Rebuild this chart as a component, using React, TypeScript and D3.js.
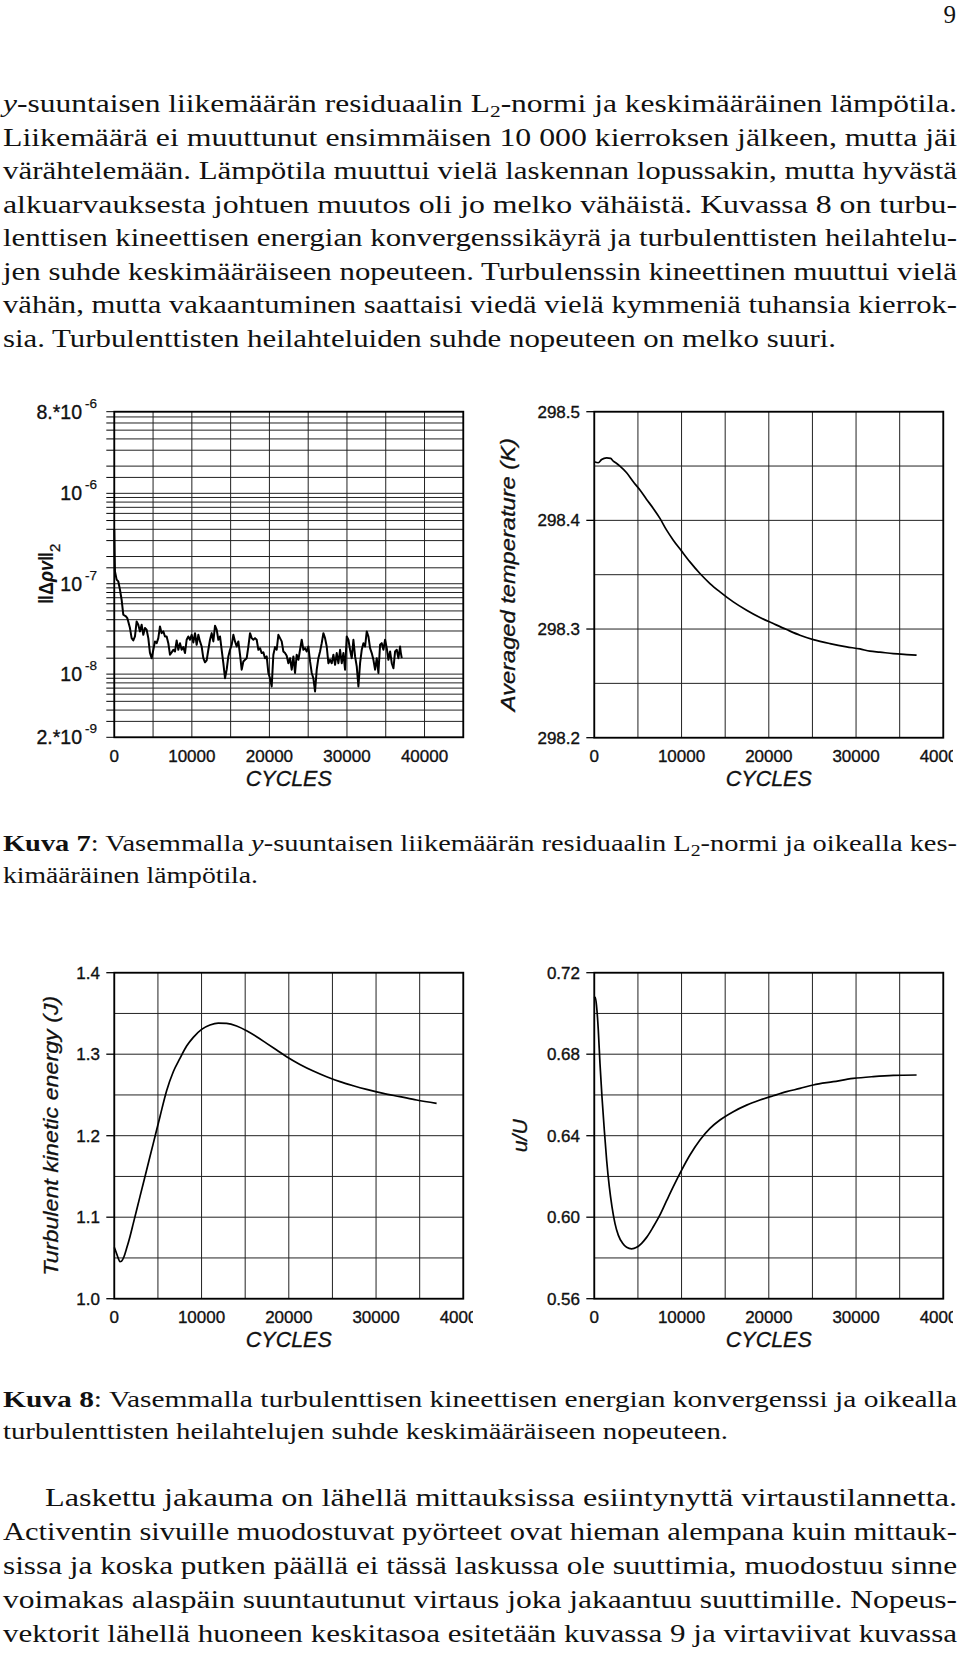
import React from "react";
import * as d3 from "d3";

const SERIF = "'Liberation Serif', 'Times New Roman', serif";
const SANS = "'Liberation Sans', Arial, Helvetica, sans-serif";

// ---------- data ----------
const xTickValues = [0, 10000, 20000, 30000, 40000];
const xTickLabels = ["0", "10000", "20000", "30000", "40000"];

// residual L2 norm: [cycles, value]
const residual: [number, number][] = [
  [0, 4.0e-7], [40, 2.2e-7], [86, 1.37e-7], [301, 1.11e-7], [516, 1.06e-7], [730, 8.6e-8],
  [945, 6.65e-8], [1160, 4.54e-8], [1504, 4.35e-8], [1675, 4.17e-8], [2020, 3.23e-8], [2235, 2.5e-8],
  [2450, 2.36e-8], [2665, 2.61e-8], [2880, 3.83e-8], [3095, 3.52e-8], [3310, 2.97e-8], [3525, 3.52e-8],
  [3740, 2.72e-8], [3955, 3.23e-8], [4170, 3.1e-8], [4385, 2.5e-8], [4600, 1.71e-8], [4815, 1.5e-8],
  [5030, 1.86e-8], [5245, 2.3e-8], [5460, 2.2e-8], [5675, 2.5e-8], [5890, 3.37e-8], [6105, 2.84e-8],
  [6320, 2.97e-8], [6535, 2.61e-8], [6750, 2.61e-8], [6965, 2.2e-8], [7180, 1.64e-8], [7395, 1.74e-8],
  [7610, 1.86e-8], [7825, 1.78e-8], [8040, 2.36e-8], [8255, 1.86e-8], [8470, 2.2e-8], [8685, 1.86e-8],
  [8900, 1.99e-8], [9115, 1.71e-8], [9330, 2.4e-8], [9545, 2.61e-8], [9760, 2.4e-8], [9975, 2.72e-8],
  [10190, 2.24e-8], [10405, 2.84e-8], [10620, 2.11e-8], [10835, 2.72e-8], [11050, 2.3e-8], [11265, 2.02e-8],
  [11480, 1.5e-8], [11695, 1.35e-8], [11910, 1.42e-8], [12125, 1.86e-8], [12340, 2.4e-8], [12555, 2.84e-8],
  [12770, 2.3e-8], [12985, 3.43e-8], [13200, 3.1e-8], [13415, 2.4e-8], [13630, 2.61e-8], [13845, 1.86e-8],
  [14060, 1.32e-8], [14275, 9.0e-9], [14490, 1.12e-8], [14705, 1.57e-8], [14920, 1.86e-8], [15135, 2.11e-8],
  [15350, 2.72e-8], [15565, 2.3e-8], [15780, 2.02e-8], [15995, 2.3e-8], [16210, 1.64e-8], [16425, 1.12e-8],
  [16640, 1.38e-8], [16855, 1.44e-8], [17070, 1.5e-8], [17285, 2.02e-8], [17500, 2.84e-8], [17715, 2.5e-8],
  [17930, 2.4e-8], [18145, 2.5e-8], [18360, 2.4e-8], [18575, 1.86e-8], [18790, 1.94e-8], [19005, 1.71e-8],
  [19220, 1.74e-8], [19435, 1.5e-8], [19650, 1.57e-8], [19865, 1.03e-8], [20080, 9.0e-9], [20295, 7.3e-9],
  [20510, 1.64e-8], [20725, 1.99e-8], [20940, 1.86e-8], [21155, 2.72e-8], [21370, 2.5e-8], [21585, 2.3e-8],
  [21800, 1.78e-8], [22015, 1.71e-8], [22230, 1.6e-8], [22445, 1.32e-8], [22660, 1.5e-8], [22875, 1.12e-8],
  [23090, 1.57e-8], [23305, 1.03e-8], [23520, 1.64e-8], [23735, 1.44e-8], [23950, 1.86e-8], [24165, 2.4e-8],
  [24380, 1.86e-8], [24595, 1.94e-8], [24810, 1.78e-8], [25025, 2.02e-8], [25240, 1.38e-8], [25455, 1.03e-8],
  [25670, 9.0e-9], [25885, 6.43e-9], [26100, 1.12e-8], [26315, 1.5e-8], [26530, 1.78e-8], [26745, 2.2e-8],
  [26960, 2.84e-8], [27175, 2.5e-8], [27390, 2.02e-8], [27605, 1.32e-8], [27820, 1.44e-8], [28035, 1.32e-8],
  [28250, 1.64e-8], [28465, 1.27e-8], [28680, 1.71e-8], [28895, 1.32e-8], [29110, 1.86e-8], [29325, 1.32e-8],
  [29540, 1.71e-8], [29755, 1.12e-8], [29970, 2.61e-8], [30185, 2.4e-8], [30400, 1.86e-8], [30615, 1.5e-8],
  [30830, 2.4e-8], [31045, 1.57e-8], [31260, 1.22e-8], [31475, 7.3e-9], [31690, 1.32e-8], [31905, 1.86e-8],
  [32120, 2.2e-8], [32335, 2.02e-8], [32550, 2.97e-8], [32765, 2.61e-8], [32980, 1.94e-8], [33195, 1.71e-8],
  [33410, 1.44e-8], [33625, 1.12e-8], [33840, 1.5e-8], [34055, 1.03e-8], [34270, 2.11e-8], [34485, 2.2e-8],
  [34700, 1.86e-8], [34915, 2.4e-8], [35130, 1.94e-8], [35345, 1.44e-8], [35560, 1.78e-8], [35775, 1.32e-8],
  [35990, 1.16e-8], [36205, 1.78e-8], [36420, 1.86e-8], [36635, 1.5e-8], [36850, 2.02e-8], [36935, 1.74e-8],
  [37065, 1.5e-8],
];
const logTickValues = [8e-6, 1e-6, 1e-7, 1e-8, 2e-9];
const logTickBases = ["8.*10", "10", "10", "10", "2.*10"];
const logTickExps = ["-6", "-6", "-7", "-8", "-9"];
const logGridMultipliers = [1, 1.5, 2, 3, 4, 5, 6, 7, 8, 9];
const logDecades = [-9, -8, -7, -6];

const tempCycles = [0, 458, 840, 1413, 1870, 2177, 2560, 2940, 3705, 4470, 5233, 5997, 6760, 7525, 8290, 9053, 10008, 10963, 12109, 13255, 14401, 15929, 17457, 18985, 20513, 22041, 23569, 25097, 27007, 28917, 30445, 31591, 32737, 34265, 35793, 36939];
const tempValues = [298.454, 298.453, 298.456, 298.4576, 298.457, 298.4546, 298.4524, 298.45, 298.4438, 298.4355, 298.4279, 298.4193, 298.411, 298.4018, 298.391, 298.3818, 298.3717, 298.3618, 298.3511, 298.3419, 298.3342, 298.325, 298.3173, 298.3106, 298.305, 298.2995, 298.2943, 298.2903, 298.2866, 298.2836, 298.2817, 298.2796, 298.2787, 298.2774, 298.2765, 298.2759];
const tempTicks = [298.2, 298.3, 298.4, 298.5];
const tempTickLabels = ["298.2", "298.3", "298.4", "298.5"];

const tkeCycles = [0, 191, 458, 650, 840, 1108, 1413, 1795, 2177, 2941, 3705, 4469, 5233, 5997, 6761, 7525, 8289, 9053, 10008, 10963, 11918, 12873, 14019, 15165, 16311, 17457, 18603, 19749, 21277, 22805, 24333, 25861, 27389, 28917, 30827, 32737, 34647, 36939];
const tkeValues = [1.063, 1.0577, 1.0495, 1.0454, 1.0462, 1.0515, 1.0618, 1.0761, 1.0924, 1.1252, 1.1579, 1.1906, 1.2233, 1.2552, 1.2785, 1.2949, 1.31, 1.3207, 1.3305, 1.3358, 1.3382, 1.3378, 1.3346, 1.3288, 1.3215, 1.3133, 1.3051, 1.2969, 1.2875, 1.2794, 1.2724, 1.2663, 1.2613, 1.2568, 1.2519, 1.2479, 1.2438, 1.2397];
const tkeTicks = [1.0, 1.1, 1.2, 1.3, 1.4];
const tkeTickLabels = ["1.0", "1.1", "1.2", "1.3", "1.4"];

const uCycles = [0, 115, 267, 458, 650, 879, 1146, 1413, 1719, 2025, 2368, 2750, 3247, 3705, 4278, 4851, 5424, 5997, 6761, 7525, 8289, 9053, 10008, 10963, 12109, 13255, 14401, 15929, 17457, 18985, 20513, 22041, 23569, 25097, 27389, 29681, 31973, 34265, 36939];
const uValues = [0.7074, 0.7079, 0.7033, 0.6919, 0.6755, 0.6591, 0.6428, 0.6281, 0.615, 0.6052, 0.597, 0.5912, 0.5872, 0.5852, 0.5845, 0.5852, 0.5872, 0.5901, 0.5953, 0.6011, 0.6081, 0.615, 0.6231, 0.6305, 0.6379, 0.6436, 0.6477, 0.6518, 0.655, 0.6575, 0.6596, 0.6616, 0.6632, 0.6649, 0.6665, 0.6681, 0.669, 0.6696, 0.6698];
const uTicks = [0.56, 0.6, 0.64, 0.68, 0.72];
const uTickLabels = ["0.56", "0.60", "0.64", "0.68", "0.72"];

// ---------- text ----------
const para1 = [
  "Liikemäärä ei muuttunut ensimmäisen 10 000 kierroksen jälkeen, mutta jäi",
  "värähtelemään. Lämpötila muuttui vielä laskennan lopussakin, mutta hyvästä",
  "alkuarvauksesta johtuen muutos oli jo melko vähäistä. Kuvassa 8 on turbu-",
  "lenttisen kineettisen energian konvergenssikäyrä ja turbulenttisten heilahtelu-",
  "jen suhde keskimääräiseen nopeuteen. Turbulenssin kineettinen muuttui vielä",
  "vähän, mutta vakaantuminen saattaisi viedä vielä kymmeniä tuhansia kierrok-",
];
const para1Last = "sia. Turbulenttisten heilahteluiden suhde nopeuteen on melko suuri.";
const para2 = [
  "Activentin sivuille muodostuvat pyörteet ovat hieman alempana kuin mittauk-",
  "sissa ja koska putken päällä ei tässä laskussa ole suuttimia, muodostuu sinne",
  "voimakas alaspäin suuntautunut virtaus joka jakaantuu suuttimille. Nopeus-",
  "vektorit lähellä huoneen keskitasoa esitetään kuvassa 9 ja virtaviivat kuvassa",
];

const TX0 = 3;
const TX1 = 957;
const BODY = 25;
const CAP = 23;
const INK = "#111";

function JLine(p: { x: number; y: number; len: number; size: number; children: any }) {
  return (
    <text x={p.x} y={p.y} fontFamily={SERIF} fontSize={p.size} fill={INK}
      textLength={p.len} lengthAdjust="spacingAndGlyphs">{p.children}</text>
  );
}

// ---------- panels ----------
const PW = 349;
const PH = 326;
const TICKFONT = 17;
const labelStyle = { fontFamily: SANS, fontSize: TICKFONT, fill: INK, stroke: INK, strokeWidth: 0.35 };

function XAxisLabels({ x, bottom, clipId }: { x: any; bottom: number; clipId?: string }) {
  const r = x.range();
  return (
    <g>
      <g clipPath={clipId ? `url(#${clipId})` : undefined}>
        {xTickValues.map((v, i) => (
          <text key={i} x={x(v)} y={bottom + 24.6} textAnchor="middle" {...labelStyle}>{xTickLabels[i]}</text>
        ))}
      </g>
      <text x={(r[0] + r[1]) / 2} y={bottom + 48.6} textAnchor="middle" fontFamily={SANS}
        fontStyle="italic" fontSize={21.5} fill={INK} stroke={INK} strokeWidth={0.3}>CYCLES</text>
    </g>
  );
}

function LinearPanel(p: {
  left: number; top: number; yMin: number; yMax: number; gridStep: number;
  ticks: number[]; tickLabels: string[]; xs: number[]; ys: number[];
  title: string; titleX: number; titleLen: number; clipId: string;
}) {
  const { left, top } = p;
  const x = d3.scaleLinear().domain([0, 40000]).range([left, left + PW]);
  const y = d3.scaleLinear().domain([p.yMin, p.yMax]).range([top + PH, top]);
  const n = Math.round((p.yMax - p.yMin) / p.gridStep);
  const yGrid = d3.range(n + 1).map((i) => p.yMin + i * p.gridStep);
  const xGrid = d3.range(0, 40001, 5000);
  const pts = p.xs.map((c, i) => [c, p.ys[i]] as [number, number]);
  const path = d3.line<[number, number]>().x((d) => x(d[0])).y((d) => y(d[1])).curve(d3.curveMonotoneX)(pts) || "";
  return (
    <g>
      {xGrid.map((v) => <line key={"vx" + v} x1={x(v)} x2={x(v)} y1={top} y2={top + PH} stroke="#222" strokeWidth={1} />)}
      {yGrid.map((v, i) => <line key={"hy" + i} x1={left} x2={left + PW} y1={y(v)} y2={y(v)} stroke="#222" strokeWidth={1} />)}
      {p.ticks.map((v, i) => (
        <g key={"t" + i}>
          <line x1={left - 8} x2={left} y1={y(v)} y2={y(v)} stroke="#000" strokeWidth={1.3} />
          <text x={left - 14.3} y={y(v) + 6} textAnchor="end" {...labelStyle}>{p.tickLabels[i]}</text>
        </g>
      ))}
      <rect x={left} y={top} width={PW} height={PH} fill="none" stroke="#000" strokeWidth={1.8} />
      <path d={path} fill="none" stroke="#000" strokeWidth={1.7} />
      <XAxisLabels x={x} bottom={top + PH} clipId={p.clipId} />
      <text transform={`translate(${p.titleX},${top + PH / 2}) rotate(-90)`} textAnchor="middle"
        fontFamily={SANS} fontStyle="italic" fontSize={21} fill={INK} stroke={INK} strokeWidth={0.3}
        textLength={p.titleLen} lengthAdjust="spacingAndGlyphs">{p.title}</text>
    </g>
  );
}

function ResidualPanel() {
  const left = 114.3, top = 411.7, h = 325.6;
  const x = d3.scaleLinear().domain([0, 45000]).range([left, left + PW]);
  const y = d3.scaleLog().domain([2e-9, 8e-6]).range([top + h, top]);
  const xGrid = d3.range(0, 45001, 5000);
  const grid: number[] = [];
  logDecades.forEach((d) => logGridMultipliers.forEach((m) => {
    const v = m * Math.pow(10, d);
    if (v >= 2e-9 * 0.999 && v <= 8e-6 * 1.001) grid.push(v);
  }));
  const path = d3.line<[number, number]>().x((d) => x(d[0])).y((d) => y(d[1]))(residual) || "";
  return (
    <g>
      {xGrid.map((v) => <line key={"vx" + v} x1={x(v)} x2={x(v)} y1={top} y2={top + h} stroke="#222" strokeWidth={1} />)}
      {grid.map((v, i) => (
        <g key={"g" + i}>
          <line x1={left} x2={left + PW} y1={y(v)} y2={y(v)} stroke="#222" strokeWidth={1} />
          <line x1={left - 8} x2={left} y1={y(v)} y2={y(v)} stroke="#000" strokeWidth={1} />
        </g>
      ))}
      <rect x={left} y={top} width={PW} height={h} fill="none" stroke="#000" strokeWidth={1.8} />
      <path d={path} fill="none" stroke="#000" strokeWidth={2} strokeLinejoin="round" />
      {logTickValues.map((v, i) => (
        <g key={"lt" + i}>
          <text x={82} y={y(v) + 6.8} textAnchor="end" fontFamily={SANS} fontSize={19.5} fill={INK} stroke={INK} strokeWidth={0.35}>{logTickBases[i]}</text>
          <text x={85} y={y(v) - 4} fontFamily={SANS} fontSize={13.5} fill={INK} stroke={INK} strokeWidth={0.25}>{logTickExps[i]}</text>
        </g>
      ))}
      <XAxisLabels x={x} bottom={top + h} />
      <text transform="translate(53,604) rotate(-90)" fontFamily={SANS} fontWeight="bold" fontSize={21} fill={INK}
        textLength={52} lengthAdjust="spacingAndGlyphs">‖Δ<tspan fontStyle="italic">ρv</tspan>‖</text>
      <text transform="translate(60,552) rotate(-90)" fontFamily={SANS} fontSize={15} fill={INK} stroke={INK} strokeWidth={0.3}>2</text>
    </g>
  );
}

export default function App() {
  const bodyStart = 112;
  const bodyStep = 33.5;
  return (
    <svg width={960} height={1657} viewBox="0 0 960 1657"
      style={{ position: "absolute", left: 0, top: 0, display: "block", background: "#fff" }}>
      <defs>
        <clipPath id="clipRight"><rect x={480} y={0} width={473} height={1657} /></clipPath>
        <clipPath id="clipLeft"><rect x={0} y={0} width={473} height={1657} /></clipPath>
      </defs>
      <rect x={0} y={0} width={960} height={1657} fill="#fff" />

      <text x={956} y={23} textAnchor="end" fontFamily={SERIF} fontSize={BODY} fill={INK}>9</text>

      <JLine x={TX0} y={bodyStart} len={TX1 - TX0} size={BODY}>
        <tspan fontStyle="italic">y</tspan>-suuntaisen liikemäärän residuaalin L<tspan fontSize={17} dy={5}>2</tspan><tspan dy={-5}>-normi ja keskimääräinen lämpötila.</tspan>
      </JLine>
      {para1.map((s, i) => (
        <JLine key={"p1" + i} x={TX0} y={bodyStart + (i + 1) * bodyStep} len={TX1 - TX0} size={BODY}>{s}</JLine>
      ))}
      <JLine x={TX0} y={bodyStart + 7 * bodyStep} len={833} size={BODY}>{para1Last}</JLine>

      <ResidualPanel />
      <LinearPanel left={594.3} top={411.7} yMin={298.2} yMax={298.5} gridStep={0.05}
        ticks={tempTicks} tickLabels={tempTickLabels} xs={tempCycles} ys={tempValues}
        title="Averaged temperature (K)" titleX={514.5} titleLen={273} clipId="clipRight" />

      <JLine x={TX0} y={851} len={TX1 - TX0} size={CAP}>
        <tspan fontWeight="bold">Kuva 7</tspan>: Vasemmalla <tspan fontStyle="italic">y</tspan>-suuntaisen liikemäärän residuaalin L<tspan fontSize={16} dy={5}>2</tspan><tspan dy={-5}>-normi ja oikealla kes-</tspan>
      </JLine>
      <JLine x={TX0} y={882.5} len={255} size={CAP}>kimääräinen lämpötila.</JLine>

      <LinearPanel left={114.3} top={972.7} yMin={1.0} yMax={1.4} gridStep={0.05}
        ticks={tkeTicks} tickLabels={tkeTickLabels} xs={tkeCycles} ys={tkeValues}
        title="Turbulent  kinetic  energy  (J)" titleX={57.5} titleLen={280} clipId="clipLeft" />
      <LinearPanel left={594.3} top={972.7} yMin={0.56} yMax={0.72} gridStep={0.02}
        ticks={uTicks} tickLabels={uTickLabels} xs={uCycles} ys={uValues}
        title="u/U" titleX={527} titleLen={33} clipId="clipRight" />

      <JLine x={TX0} y={1407} len={TX1 - TX0} size={CAP}>
        <tspan fontWeight="bold">Kuva 8</tspan>: Vasemmalla turbulenttisen kineettisen energian konvergenssi ja oikealla
      </JLine>
      <JLine x={TX0} y={1438.5} len={725} size={CAP}>turbulenttisten heilahtelujen suhde keskimääräiseen nopeuteen.</JLine>

      <JLine x={45} y={1506} len={TX1 - 45} size={BODY}>Laskettu jakauma on lähellä mittauksissa esiintynyttä virtaustilannetta.</JLine>
      {para2.map((s, i) => (
        <JLine key={"p2" + i} x={TX0} y={1506 + (i + 1) * 34} len={TX1 - TX0} size={BODY}>{s}</JLine>
      ))}
    </svg>
  );
}
